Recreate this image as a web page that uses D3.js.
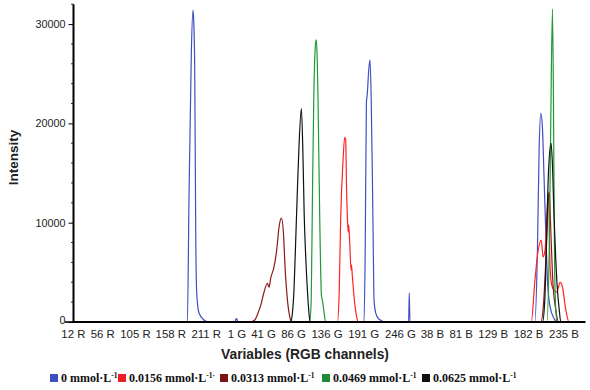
<!DOCTYPE html>
<html><head><meta charset="utf-8">
<script src="https://cdn.jsdelivr.net/npm/d3@7"></script>
<style>body{margin:0;background:#fff}svg{display:block}</style>
</head><body><svg id="c" width="590" height="390"></svg>
<script>
// ---- data (x = variable index: R0..R255 = 0..255, G0..G255 = 256..511, B0..B255 = 512..767)
const tickLabels = ["12 R","56 R","105 R","158 R","211 R","1 G","41 G","86 G","136 G","191 G","246 G","38 B","81 B","129 B","182 B","235 B"];
const tickAt     = [12, 56, 105, 158, 211, 257, 297, 342, 392, 447, 502, 550, 593, 641, 694, 747];
const yTicks = [0, 10000, 20000, 30000];
const seriesNames = ["0 mmol·L", "0.0156 mmol·L", "0.0313 mmol·L", "0.0469 mmol·L", "0.0625 mmol·L"];
const seriesSuffix = ["", "·", "", "", ""];

const blueX = [0,183.6,186,189.6,192,193.1,194.6,196.1,197.6,201,208.5,213.6, 255,256,257,258,259, 448.2,450,451.8,453,455.3,457.2,459,460.8,462.3,463.2,465.8,470.3,480.8, 515,516,517, 704,708,710.5,713,715.3,717.9,720.5,723,726.5,732.5,738.5,767];
const blueY = [0,0,12300,27400,31400,30400,25400,9000,2900,900,200,0, 0,250,350,250,0, 0,7250,22150,22850,25400,26400,22350,14300,6240,2200,900,300,0, 0,2900,0, 0,7250,17300,21000,19800,14600,9000,4200,1700,400,0,0];

const redX = [0,408.4,411.1,413.3,416.8,419.3,420.8,421.9,423.8,424.6,425.3,426.8,428.8,429.4,430.6,433.3,437.3,439.2, 698.8,704,708.1,713.7,716.4,719.4,724.5,726.9,729.5,732.9,737,742,745.6,750.5,755.4,767];
const redY = [0,0,3200,10550,16300,18600,18300,14000,9750,9050,9750,7950,5250,5750,4750,2500,500,0, 0,4000,6750,8250,6550,7250,13000,5550,3700,3200,3000,4000,3500,1200,0,0];

const darkX = [0,278.5,284.5,289.4,293.5,298.4,303.5,305.9,308.4,313.4,317.4,320.9,324.5,327.5,329.9,333.5,337.4,339.9, 713,717.5,721.2,724.2,725.7,728,731,735.5,740,767];
const darkY = [0,0,200,900,1700,3000,3900,3500,4400,5550,7250,9550,10450,8950,5550,2200,400,0, 0,2200,7250,12300,13100,9250,4200,1200,0,0];

const greenX = [0,366.9,369.1,370.9,372.9,375.9,376.9,378.1,379.3,381.9,384.4,386.4,387.9,390.8, 722,725.7,728,730.5,732,733.5,735.5,738,767];
const greenY = [0,0,2200,12300,22350,28200,28400,26400,22350,10300,2700,2000,1200,0, 0,7250,20300,31500,22350,7250,1200,0,0];

const blackX = [0,338.4,340.6,343.3,345.9,348.4,350.8,354.4,356.8,358.6,360.9,363.4,365.4,367.3, 715.6,719,722,724.5,728.4,730.2,732.9,735.5,738,740.7,743,767];
const blackY = [0,0,700,3200,8250,13300,17700,21500,16600,10800,6550,3200,1200,0, 0,2200,9250,15000,18000,16300,10600,6250,3200,1200,0,0];

const colors = ["#3f4fc4", "#ff2323", "#8b1a1a", "#1f9a35", "#111111"];
const legendColors = ["#3b4fc0", "#ee1c24", "#7a1416", "#1e8a3a", "#111111"];

// ---- drawing
const svg = d3.select("#c");
const x = d3.scaleLinear().domain([13, 780]).range([73.5, 585.5]);
const y = d3.scaleLinear().domain([0, 32000]).range([322, 4.2]);
const sans = "Arial, 'Liberation Sans', sans-serif";

const series = [[blueX, blueY], [redX, redY], [darkX, darkY], [greenX, greenY], [blackX, blackY]];
const line = d3.line().x(d => x(d[0])).y(d => y(d[1])).curve(d3.curveMonotoneX);
series.forEach((s, i) => {
  const pts = s[0].map((v, k) => [v, s[1][k]]);
  svg.append("path").attr("d", line(pts)).attr("fill", "none")
    .attr("stroke", colors[i]).attr("stroke-width", 1.2).attr("stroke-linejoin", "round");
});

// y axis
const yAxis = svg.append("g").attr("transform", "translate(73.5,0)")
  .call(d3.axisLeft(y).tickValues(yTicks).tickSize(5).tickPadding(3).tickFormat(d3.format("d")));
yAxis.select(".domain").attr("d", `M0,${y(32000)}V${y(0)}`).attr("stroke", "#000").attr("stroke-width", 2);
yAxis.selectAll("text").attr("font-family", sans).attr("font-size", 10.8).attr("fill", "#222")
  .attr("dy", d => d === 0 ? "0.1em" : "0.32em");
const minor = d3.range(0, 32001, 2000).filter(v => v % 10000);
svg.append("g").selectAll("line").data(minor).join("line")
  .attr("x1", 71).attr("x2", 73.5).attr("y1", d => y(d)).attr("y2", d => y(d)).attr("stroke", "#000").attr("stroke-width", 0.8);

// x axis
const xAxis = svg.append("g").attr("transform", `translate(0,${y(0)})`)
  .call(d3.axisBottom(x).tickValues(tickAt).tickSize(0).tickFormat((d, i) => tickLabels[i]).tickPadding(7.5));
xAxis.select(".domain").attr("d", `M72.5,0H585.5`).attr("stroke", "#000").attr("stroke-width", 2);
xAxis.selectAll("text").attr("font-family", sans).attr("font-size", 11.4).attr("fill", "#222");

// titles
svg.append("text").attr("x", 305).attr("y", 358.5).attr("text-anchor", "middle")
  .attr("font-family", sans).attr("font-weight", "bold").attr("font-size", 13.8).attr("fill", "#222")
  .text("Variables (RGB channels)");
svg.append("text").attr("transform", "translate(18,157.5) rotate(-90)").attr("text-anchor", "middle")
  .attr("font-family", sans).attr("font-weight", "bold").attr("font-size", 13.5).attr("fill", "#222")
  .text("Intensity");

// legend
const legX = [50, 118, 220, 322, 422];
const lg = svg.append("g");
seriesNames.forEach((nm, i) => {
  lg.append("rect").attr("x", legX[i]).attr("y", 374).attr("width", 8).attr("height", 8).attr("fill", legendColors[i]);
  const t = lg.append("text").attr("x", legX[i] + 11).attr("y", 382)
    .attr("font-family", "'Liberation Serif', 'Times New Roman', serif").attr("font-weight", "bold").attr("font-size", 12).attr("fill", "#111");
  t.append("tspan").text(nm);
  t.append("tspan").attr("font-size", 7.5).attr("dy", -4).text("-1");
  if (seriesSuffix[i]) t.append("tspan").attr("font-size", 7.5).text(seriesSuffix[i]);
});
</script></body></html>
